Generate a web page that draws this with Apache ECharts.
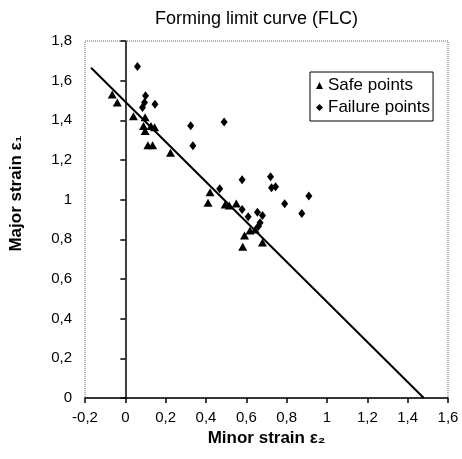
<!DOCTYPE html>
<html>
<head>
<meta charset="utf-8">
<script src="https://cdn.jsdelivr.net/npm/echarts@6/dist/echarts.min.js"></script>
<style>
html,body{margin:0;padding:0;background:#fff;}
#chart{width:462px;height:459px;}
</style>
</head>
<body>
<div id="chart"></div>
<script>
// ---- data ----
const xTickLabels = ['-0,2','0','0,2','0,4','0,6','0,8','1','1,2','1,4','1,6'];
const yTickLabels = ['0','0,2','0,4','0,6','0,8','1','1,2','1,4','1,6','1,8'];

const safeX = [-0.065, -0.04, 0.04, 0.098, 0.09, 0.098, 0.127, 0.145, 0.112, 0.135, 0.224, 0.42, 0.41, 0.495, 0.515, 0.55, 0.582, 0.591, 0.618, 0.644, 0.68];
const safeY = [1.53, 1.49, 1.42, 1.415, 1.372, 1.346, 1.372, 1.365, 1.274, 1.274, 1.237, 1.038, 0.984, 0.976, 0.97, 0.981, 0.763, 0.819, 0.844, 0.849, 0.784];

const failX = [0.06, 0.10, 0.085, 0.095, 0.147, 0.324, 0.335, 0.49, 0.468, 0.579, 0.72, 0.725, 0.745, 0.91, 0.79, 0.875, 0.655, 0.68, 0.668, 0.66, 0.609, 0.579];
const failY = [1.671, 1.524, 1.465, 1.49, 1.481, 1.373, 1.272, 1.392, 1.055, 1.10, 1.115, 1.06, 1.065, 1.018, 0.979, 0.930, 0.937, 0.92, 0.883, 0.866, 0.914, 0.951];

const flcX = [-0.17, 1.48];
const flcY = [1.665, 0];

const zip = (a, b) => a.map((v, i) => [v, b[i]]);

const FONT = 'Liberation Sans';
const chart = echarts.init(document.getElementById('chart'), null, {renderer: 'canvas'});
chart.setOption({
  backgroundColor: '#fff',
  animation: false,
  textStyle: {fontFamily: FONT, color: '#000'},
  title: {
    text: 'Forming limit curve (FLC)',
    left: 150, top: 5,
    textStyle: {fontFamily: FONT, fontSize: 18, fontWeight: 'normal', color: '#000'}
  },
  grid: {
    left: 43, right: 14, top: 41, bottom: 61,
    show: true, borderColor: '#666', borderWidth: 1, borderType: 'dotted', backgroundColor: 'transparent'
  },
  legend: {
    left: 310, top: 72,
    orient: 'vertical',
    backgroundColor: '#fff',
    borderColor: '#000', borderWidth: 1, borderRadius: 0,
    padding: [5, 3, 5, 6],
    itemGap: 5,
    itemWidth: 7, itemHeight: 7,
    textStyle: {fontFamily: FONT, fontSize: 17, color: '#000'},
    data: [
      {name: 'Safe points', icon: 'triangle'},
      {name: 'Failure points', icon: 'diamond'}
    ]
  },
  xAxis: {
    type: 'value', min: -0.2, max: 1.6, interval: 0.2,
    name: 'Minor strain ε₂', nameLocation: 'middle', nameGap: 32,
    nameTextStyle: {fontFamily: FONT, fontSize: 17, fontWeight: 'bold', color: '#000'},
    axisLine: {show: true, onZero: false, lineStyle: {color: '#000', width: 1.5}},
    axisTick: {show: true, inside: false, length: 5, lineStyle: {color: '#000', width: 1.5}},
    axisLabel: {
      margin: 12, fontFamily: FONT, fontSize: 15, color: '#000',
      formatter: v => xTickLabels[Math.round((v + 0.2) / 0.2)]
    },
    splitLine: {show: false}
  },
  yAxis: {
    type: 'value', min: 0, max: 1.8, interval: 0.2,
    name: 'Major strain ε₁', nameLocation: 'middle', nameGap: 60, nameRotate: 90,
    nameTextStyle: {fontFamily: FONT, fontSize: 17, fontWeight: 'bold', color: '#000', padding: [0, 0, 0, 52]},
    axisLine: {show: true, onZero: true, lineStyle: {color: '#000', width: 1.5}},
    axisTick: {show: true, inside: false, length: 5, lineStyle: {color: '#000', width: 1.5}},
    axisLabel: {
      margin: 13, fontFamily: FONT, fontSize: 15, color: '#000',
      formatter: v => yTickLabels[Math.round(v / 0.2)]
    },
    splitLine: {show: false}
  },
  series: [
    {
      name: 'FLC', type: 'line', data: zip(flcX, flcY),
      showSymbol: false, symbol: 'none',
      lineStyle: {color: '#000', width: 2}, z: 3
    },
    {
      name: 'Safe points', type: 'scatter', data: zip(safeX, safeY),
      symbol: 'triangle', symbolSize: [9, 8],
      itemStyle: {color: '#000', opacity: 1}, z: 4
    },
    {
      name: 'Failure points', type: 'scatter', data: zip(failX, failY),
      symbol: 'diamond', symbolSize: [7, 9],
      itemStyle: {color: '#000', opacity: 1}, z: 4
    }
  ]
});
</script>
</body>
</html>
